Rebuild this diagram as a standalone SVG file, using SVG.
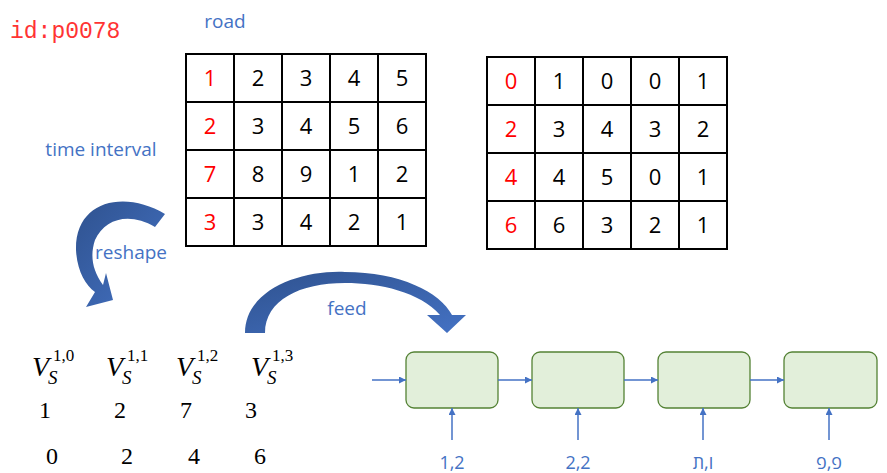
<svg xmlns="http://www.w3.org/2000/svg" width="887" height="473" viewBox="0 0 887 473">
<defs>
<style>
.c{font-family:"Open Sans","Liberation Sans",sans-serif;font-size:22px;text-anchor:middle}
.r{fill:#ff0000}
.b{font-family:"Open Sans","Liberation Sans",sans-serif;font-size:19px;fill:#4472c4;text-anchor:middle}
.g{fill:none;stroke:#000;stroke-width:2}
.box{fill:#e2efda;stroke:#548235;stroke-width:1.3}
.ln{stroke:#4472c4;stroke-width:1.5;fill:none;marker-end:url(#ah)}
.v{font-family:"Liberation Serif",serif;font-size:28px;font-style:italic}
.s{font-family:"Liberation Serif",serif;font-size:19px;font-style:italic}
.p{font-family:"Liberation Serif",serif;font-size:17px}
.n{font-family:"Liberation Serif",serif;font-size:24px;text-anchor:middle}
</style>
<marker id="ah" viewBox="0 0 10 10" refX="10" refY="5" markerWidth="7" markerHeight="7" orient="auto" markerUnits="userSpaceOnUse"><path d="M0,0L10,5L0,10z" fill="#4472c4"/></marker>
<linearGradient id="gr" x1="0" y1="0" x2="1" y2="1"><stop offset="0" stop-color="#2f528f"/><stop offset="1" stop-color="#4472c4"/></linearGradient>
</defs>
<rect width="887" height="473" fill="#fff"/>
<text x="10" y="38" font-family="Liberation Mono,monospace" font-size="23" fill="#ff3333">id:p0078</text>
<text class="b" x="225" y="28">road</text>
<text class="b" x="101" y="156">time interval</text>
<text class="b" x="131" y="259">reshape</text>
<text class="b" x="347" y="315">feed</text>
<g id="table1">
<rect class="g" x="186" y="54" width="240" height="192"/>
<path class="g" d="M234,54V246M282,54V246M330,54V246M378,54V246M186,102H426M186,150H426M186,198H426"/>
<g class="c">
<text class="r" x="210" y="86">1</text><text x="258" y="86">2</text><text x="306" y="86">3</text><text x="354" y="86">4</text><text x="402" y="86">5</text>
<text class="r" x="210" y="134">2</text><text x="258" y="134">3</text><text x="306" y="134">4</text><text x="354" y="134">5</text><text x="402" y="134">6</text>
<text class="r" x="210" y="182">7</text><text x="258" y="182">8</text><text x="306" y="182">9</text><text x="354" y="182">1</text><text x="402" y="182">2</text>
<text class="r" x="210" y="230">3</text><text x="258" y="230">3</text><text x="306" y="230">4</text><text x="354" y="230">2</text><text x="402" y="230">1</text>
</g>
</g>
<g id="table2">
<rect class="g" x="487" y="57" width="240" height="192"/>
<path class="g" d="M535,57V249M583,57V249M631,57V249M679,57V249M487,105H727M487,153H727M487,201H727"/>
<g class="c">
<text class="r" x="511" y="89">0</text><text x="559" y="89">1</text><text x="607" y="89">0</text><text x="655" y="89">0</text><text x="703" y="89">1</text>
<text class="r" x="511" y="137">2</text><text x="559" y="137">3</text><text x="607" y="137">4</text><text x="655" y="137">3</text><text x="703" y="137">2</text>
<text class="r" x="511" y="185">4</text><text x="559" y="185">4</text><text x="607" y="185">5</text><text x="655" y="185">0</text><text x="703" y="185">1</text>
<text class="r" x="511" y="233">6</text><text x="559" y="233">6</text><text x="607" y="233">3</text><text x="655" y="233">2</text><text x="703" y="233">1</text>
</g>
</g>
<g id="reshape-arrow"><path fill="url(#gr)" d="M165,214 C125,190 75,200 76,250 C77,270 85,285 95,292 L86,307 L113,300 L106,273 L103,285 C92,270 90,255 95,240 C105,218 130,212 155,227 Z"/></g>
<g id="feed-arrow"><path fill="url(#gr)" d="M245,333 C245,290 300,270 345,272 C400,272 440,292 452,315 L466,315 L447,333 L427,315 L440,315 C420,292 380,283 345,283 C300,283 265,300 265,333 Z"/></g>
<g id="vars">
<text class="v" x="32" y="376">V</text><text class="s" x="48" y="384">S</text><text class="p" x="53" y="361">1,0</text>
<text class="v" x="106" y="376">V</text><text class="s" x="122" y="384">S</text><text class="p" x="127" y="361">1,1</text>
<text class="v" x="176" y="376">V</text><text class="s" x="192" y="384">S</text><text class="p" x="197" y="361">1,2</text>
<text class="v" x="251" y="376">V</text><text class="s" x="267" y="384">S</text><text class="p" x="272" y="361">1,3</text>
<text class="n" x="45" y="418">1</text><text class="n" x="120" y="418">2</text><text class="n" x="186" y="418">7</text><text class="n" x="251" y="418">3</text>
<text class="n" x="52" y="464">0</text><text class="n" x="127" y="464">2</text><text class="n" x="194" y="464">4</text><text class="n" x="260" y="464">6</text>
</g>
<g id="cell1"><rect class="box" x="406" y="352" width="92" height="56" rx="8"/></g>
<g id="cell2"><rect class="box" x="532" y="352" width="92" height="56" rx="8"/></g>
<g id="cell3"><rect class="box" x="658" y="352" width="92" height="56" rx="8"/></g>
<g id="cell4"><rect class="box" x="784" y="352" width="93" height="56" rx="8"/></g>
<g id="connectors">
<path class="ln" d="M372,380H406"/><path class="ln" d="M498,380H532"/><path class="ln" d="M624,380H658"/><path class="ln" d="M750,380H784"/>
<path class="ln" d="M452,440V408"/><path class="ln" d="M578,440V408"/><path class="ln" d="M703,440V408"/><path class="ln" d="M829,440V408"/>
</g>
<g class="b">
<text x="452" y="469" font-size="18">1,2</text><text x="578" y="469" font-size="18">2,2</text><text x="703" y="469" font-size="18">ו,ת</text><text x="829" y="469" font-size="18">פ,פ</text>
</g>
</svg>
